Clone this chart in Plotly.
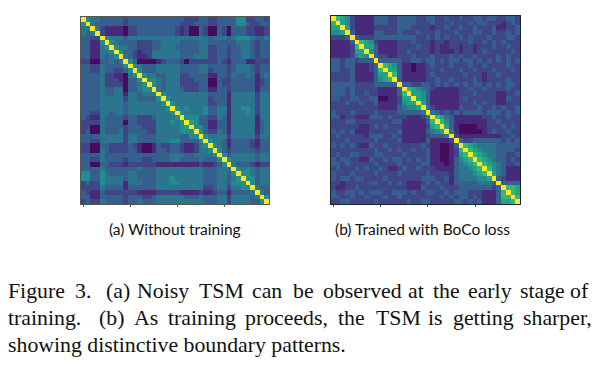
import plotly.graph_objects as go

# Levels 0-9 (viridis steps); upper triangle only, Y = diagonal.
TSM_A = [
"Y544333332 3333333333 3322233223 3335522332",
".Y43333332 3333333333 3222333223 3335532233",
"..Y4211110 2233333333 2120032003 2033322112",
"...Y211110 2233333333 2120032003 2033322112",
"....Y54443 4444444444 4444444344 4345554334",
".....Y5433 3322233444 4333344333 3334443233",
"......Y544 3322233444 3333344223 3233443233",
".......Y53 3212244444 4333344223 3233443233",
"........Y4 3211244444 4333444223 3233443233",
".........Y 5300001233 3202222223 2133311222",
".......... Y543334444 4333344333 3234443233",
".......... .Y53334444 4333344233 3234443233",
".......... ..Y5443344 4223333113 3243343134",
".......... ...Y554344 4222333003 2233333123",
".......... ....Y54344 4222233003 2233333123",
".......... .....Y4344 4322233113 3233333133",
".......... ......Y544 4444444333 3144444244",
".......... .......Y54 4444444233 3144444244",
".......... ........Y5 4444444223 3144444244",
".......... .........Y 5454445334 4144554244",
".......... .......... Y544445334 4144454244",
".......... .......... .Y55533224 3144444144",
".......... .......... ..Y6533113 3144444134",
".......... .......... ...Y553113 3144444134",
".......... .......... ....Y53224 3144444134",
".......... .......... .....Y5444 4244444244",
".......... .......... ......Y544 3133332133",
".......... .......... .......Y54 3133332133",
".......... .......... ........Y5 3233333233",
".......... .......... .........Y 5344444344",
".......... .......... .......... Y544444344",
".......... .......... .......... .Y43332122",
".......... .......... .......... ..Y5454344",
".......... .......... .......... ...Y554344",
".......... .......... .......... ....Y55344",
".......... .......... .......... .....Y5344",
".......... .......... .......... ......Y433",
".......... .......... .......... .......Y43",
".......... .......... .......... ........Y5",
".......... .......... .......... .........Y",
]
TSM_B = [
"Y765211113 3322333322 3322322322 3323322332",
".Y65211113 3322333322 2322232223 2332221232",
"..Y6211112 2222333222 2122322322 3222311223",
"...Y311113 3222322232 2232223222 3322322323",
"....Y32223 3333333322 3232322323 2223222332",
".....Y7652 1111222322 2122122223 2232323222",
"......Y663 1111222232 2121122122 1222322322",
".......Y53 1111223222 2121112122 1232222232",
"........Y3 2211222322 2322232322 3222232322",
".........Y 3333322332 3323233233 2323232323",
".......... Y765311011 2322232223 2232222322",
".......... .Y66311011 2223222322 3222322232",
".......... ..Y7311111 2322222232 2212232222",
".......... ...Y311111 2232232222 3212222322",
".......... ....Y33223 3232323232 3323232332",
".......... .....Y7654 3211111223 2232222322",
".......... ......Y665 3111111222 3222211223",
".......... .......Y65 3111111232 2222211322",
".......... ........Y6 3111111222 3232211222",
".......... .........Y 4211111322 2322323223",
".......... .......... Y432323233 3323332323",
".......... .......... .Y76431111 1122322322",
".......... .......... ..Y7531111 1112232222",
".......... .......... ...Y631000 0112223232",
".......... .......... ....Y41000 0012322322",
".......... .......... .....Y2111 1111112232",
".......... .......... ......Y322 3333332323",
".......... .......... .......Y76 5444433333",
".......... .......... ........Y7 6544433332",
".......... .......... .........Y 7654433223",
".......... .......... .......... Y765433232",
".......... .......... .......... .Y76543223",
".......... .......... .......... ..Y7543111",
".......... .......... .......... ...Y643111",
".......... .......... .......... ....Y32111",
".......... .......... .......... .....Y3333",
".......... .......... .......... ......Y776",
".......... .......... .......... .......Y76",
".......... .......... .......... ........Y7",
".......... .......... .......... .........Y",
]
TICKS = [0, 10, 20, 30]
CAPTION_A = "(a) Without training"
CAPTION_B = "(b) Trained with BoCo loss"
LINE_1 = ["Figure", "3.", "(a)", "Noisy", "TSM", "can", "be", "observed", "at", "the", "early", "stage", "of"]
LINE_2 = ["training.", "(b)", "As", "training", "proceeds,", "the", "TSM", "is", "getting", "sharper,"]
LINE_3 = ["showing distinctive boundary patterns."]


def to_matrix(rows):
    rows = [r.replace(" ", "") for r in rows]
    n = len(rows)
    m = [[0.0] * n for _ in range(n)]
    for i in range(n):
        m[i][i] = 1.0
        for j in range(i + 1, n):
            m[i][j] = m[j][i] = 0.03 + int(rows[i][j]) / 9 * 0.82
    return m


W, H = 604, 370
fig = go.Figure()
panels = [(TSM_A, "x", "y", (81, 269), (17, 204), "#555555"),
          (TSM_B, "x2", "y2", (331, 520), (16, 204), "#222222")]
for rows, xa, ya, xp, yp, col in panels:
    fig.add_trace(go.Heatmap(z=to_matrix(rows), xaxis=xa, yaxis=ya, colorscale="Viridis",
                             zmin=0, zmax=1, showscale=False, hoverinfo="skip"))
    ax = dict(showgrid=False, zeroline=False, showline=True, mirror=True, linecolor=col,
              linewidth=1, ticks="outside", ticklen=2, tickwidth=1, tickcolor="#555555",
              tickvals=TICKS, showticklabels=False)
    k = xa[1:]
    fig.update_layout({
        "xaxis" + k: dict(ax, domain=[xp[0] / W, xp[1] / W], range=[-0.5, 39.5], anchor=ya),
        "yaxis" + k: dict(ax, domain=[1 - yp[1] / H, 1 - yp[0] / H], range=[39.5, -0.5], anchor=xa, ticklen=0),
    })

CAP = "Lato, Noto Sans, sans-serif"
BODY_FONT = "Liberation Serif, serif"
ann = [
    dict(text=CAPTION_A, x=174.5, y=229, size=15.5, fam=CAP, anchor="center"),
    dict(text=CAPTION_B, x=422.5, y=229, size=15.5, fam=CAP, anchor="center"),
]
POS_1 = [8, 75, 106, 137, 199, 252, 293, 323, 408, 433, 468, 520, 570]
POS_2 = [8, 99, 134, 168, 245, 338, 376, 428, 453, 523]
POS_3 = [8]
for words, pos, y in zip((LINE_1, LINE_2, LINE_3), (POS_1, POS_2, POS_3), (291, 318, 345)):
    for w, x in zip(words, pos):
        ann.append(dict(text=w, x=x - 2, y=y, size=21.8, fam=BODY_FONT, anchor="left"))
fig.update_layout(
    annotations=[dict(text=a["text"], x=a["x"] / W, y=1 - a["y"] / H, xref="paper", yref="paper",
                      xanchor=a["anchor"], yanchor="middle", showarrow=False,
                      font=dict(family=a["fam"], size=a["size"], color="#111111")) for a in ann],
    width=W, height=H, margin=dict(l=0, r=0, t=0, b=0),
    paper_bgcolor="white", plot_bgcolor="white",
)
fig.write_html("out.html", config={"displayModeBar": False},
               post_script="document.body.style.margin='0';")
